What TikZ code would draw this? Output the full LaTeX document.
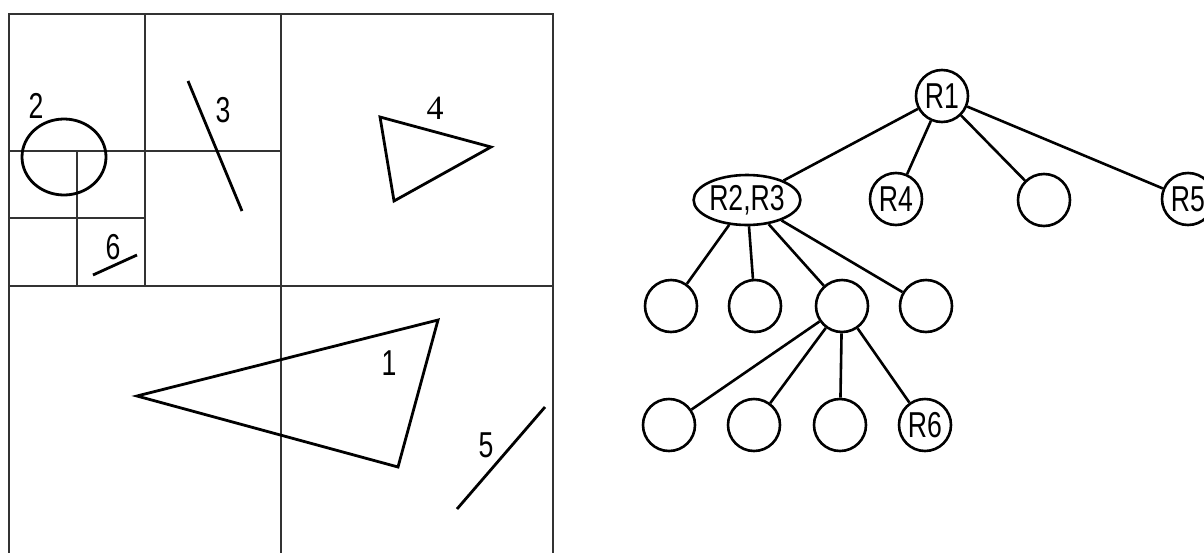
\documentclass[tikz,border=0pt]{standalone}
\usepackage{fontspec}
\usetikzlibrary{shapes.geometric}
\newfontfamily\narrowfont{Liberation Sans}[FakeStretch=0.74]
\newfontfamily\serifnum{Liberation Serif}
\begin{document}
\begin{tikzpicture}[x=1pt,y=-1pt,
  gridline/.style={line width=1.8pt,draw=black!80},
  objline/.style={line width=2.8pt,draw=black,line join=miter},
  lbl/.style={font=\narrowfont\fontsize{36}{36}\selectfont,inner sep=0pt},
  tnode/.style={circle,draw=black,line width=2.6pt,minimum size=52pt,inner sep=0pt,font=\narrowfont\fontsize{36}{36}\selectfont},
  enode/.style={ellipse,draw=black,line width=2.6pt,minimum width=100pt,minimum height=50pt,inner sep=0pt,font=\narrowfont\fontsize{36}{36}\selectfont},
  edge/.style={line width=2.6pt,draw=black}]
\useasboundingbox (0,0) rectangle (1204,552);
\fill[white] (0,0) rectangle (1204,552);
% quadtree grid
\draw[gridline] (9,560) -- (9,14) -- (553,14) -- (553,560);
\draw[gridline] (281,14) -- (281,560);
\draw[gridline] (9,286) -- (553,286);
\draw[gridline] (145,14) -- (145,286);
\draw[gridline] (9,151) -- (281,151);
\draw[gridline] (77,151) -- (77,286);
\draw[gridline] (9,218) -- (145,218);
% objects
\draw[objline] (64,157) ellipse [x radius=42,y radius=38];
\node[lbl] (l2) at (36,106) {2};
\draw[objline] (188,81) -- (242,211);
\node[lbl] (l3) at (223,110) {3};
\draw[objline] (93,275) -- (137,255);
\node[lbl] (l6) at (113,247) {6};
\draw[objline] (380,117) -- (491,147) -- (394,201) -- cycle;
\node[lbl,font=\serifnum\fontsize{34}{34}\selectfont] (l4) at (435,108) {4};
\draw[objline] (137,396) -- (438,320) -- (398,467) -- cycle;
\node[lbl] (l1) at (389,363) {1};
\draw[objline] (457,509) -- (545,407);
\node[lbl] (l5) at (486,445) {5};
% tree
\node[tnode] (r1) at (942,96) {R1};
\node[enode] (r23) at (747,200) {R2,R3};
\node[tnode] (r4) at (896,199) {R4};
\node[tnode] (e1) at (1044,200) {};
\node[tnode] (r5) at (1188,199) {R5};
\node[tnode] (a1) at (671,306) {};
\node[tnode] (a2) at (755,306) {};
\node[tnode] (a3) at (842,306) {};
\node[tnode] (a4) at (926,306) {};
\node[tnode] (b1) at (669,425) {};
\node[tnode] (b2) at (754,425) {};
\node[tnode] (b3) at (840,425) {};
\node[tnode] (r6) at (925,425) {R6};
\draw[edge] (r1) -- (r23);
\draw[edge] (r1) -- (r4);
\draw[edge] (r1) -- (e1);
\draw[edge] (r1) -- (r5);
\draw[edge] (r23) -- (a1);
\draw[edge] (r23) -- (a2);
\draw[edge] (r23) -- (a3);
\draw[edge] (r23) -- (a4);
\draw[edge] (a3) -- (b1);
\draw[edge] (a3) -- (b2);
\draw[edge] (a3) -- (b3);
\draw[edge] (a3) -- (r6);
\end{tikzpicture}
\end{document}
